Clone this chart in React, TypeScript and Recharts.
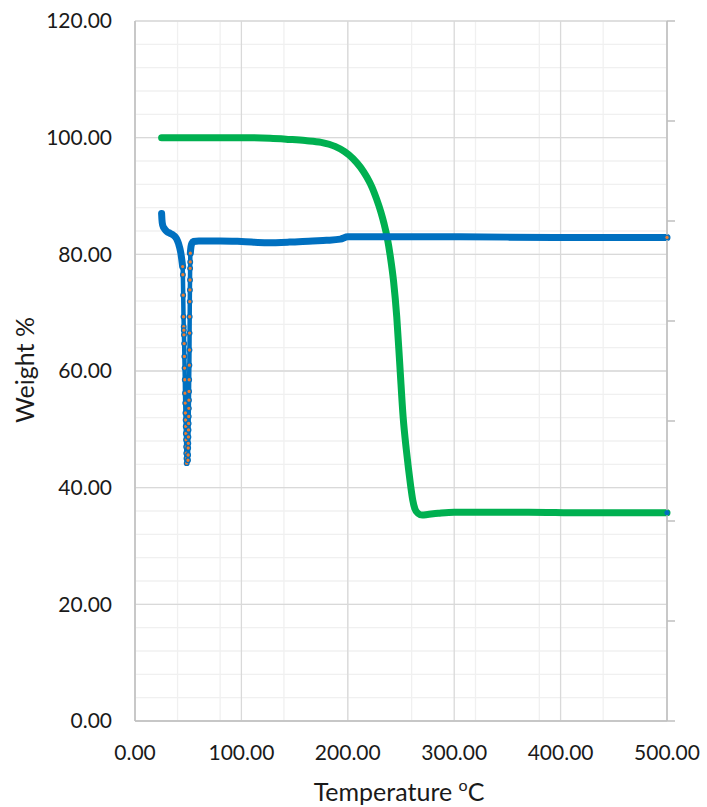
import React from 'react';
import {
  LineChart,
  Line,
  XAxis,
  YAxis,
  CartesianGrid,
  Label,
} from 'recharts';

// TGA curve (green): temperature / weight %
const greenTemp = [
  25, 60, 100, 127, 145, 160, 175, 188, 197, 205, 212, 218, 223, 227, 231, 234,
  237, 240, 243, 246, 249, 252, 255, 257, 259, 261, 263, 266, 270, 275, 285, 300,
  330, 370, 420, 500,
];
const greenWeight = [
  100.0, 100.0, 100.0, 99.9, 99.7, 99.5, 99.2, 98.5, 97.6, 96.4, 94.9, 93.2, 91.4,
  89.5, 87.3, 85.3, 82.9, 79.6, 75.4, 69.3, 60.7, 52.1, 46.5, 43.3, 40.4, 37.9,
  36.4, 35.6, 35.3, 35.4, 35.6, 35.8, 35.8, 35.8, 35.7, 35.7,
];

// blue curve, split in three parts: start, the dip near 45-52 °C, the long tail
const blueLeadTemp = [25, 25.3, 26, 28, 30, 33, 36, 39, 41, 43, 44.8];
const blueLeadWeight = [87.0, 86.0, 85.0, 84.3, 83.9, 83.6, 83.3, 82.7, 81.8, 80.3, 77.9];

const blueDipTemp = [
  44.8, 45.0, 45.3, 45.6, 45.8, 45.9, 46.0, 46.2, 46.4, 46.6, 46.8, 47.0, 47.2, 47.4,
  47.6, 47.7, 47.8, 48.0, 48.1, 48.2, 48.4, 48.6,
  49.8, 49.9, 50.0, 50.1, 50.2, 50.3, 50.4, 50.5, 50.6, 50.7, 50.8, 50.9, 51.1,
  51.2, 51.3, 51.4, 51.5, 51.6, 51.7, 51.8, 51.9, 52.0,
];
const blueDipWeight = [
  77.9, 76.5, 73.0, 69.3, 67.6, 67.0, 66.2, 64.7, 62.5, 60.5, 58.5, 56.2, 54.5,
  52.8, 51.6, 50.5, 49.3, 48.2, 47.0, 45.9, 45.0, 44.2,
  44.7, 45.6, 46.8, 47.6, 48.7, 49.9, 51.0, 52.2, 53.6, 55.0, 56.5, 58.5, 61.0,
  63.6, 66.5, 69.3, 71.9, 73.9, 75.6, 77.6, 78.7, 80.2,
];

const blueTailTemp = [52.0, 52.6, 53.5, 55, 60, 80, 100, 124, 145, 167, 180, 193, 200, 215, 250, 300, 400, 500];
const blueTailWeight = [80.2, 81.3, 81.9, 82.2, 82.3, 82.3, 82.2, 82.0, 82.1, 82.3, 82.4, 82.6, 83.0, 83.0, 83.0, 83.0, 82.9, 82.9];

// axes
const xTicks = [0, 100, 200, 300, 400, 500];
const yTicks = [0, 20, 40, 60, 80, 100, 120];
const xMinor = [0, 20, 40, 60, 80, 100, 120, 140, 160, 180, 200, 220, 240, 260, 280, 300, 320, 340, 360, 380, 400, 420, 440, 460, 480, 500];
const yMinor = [0, 4, 8, 12, 16, 20, 24, 28, 32, 36, 40, 44, 48, 52, 56, 60, 64, 68, 72, 76, 80, 84, 88, 92, 96, 100, 104, 108, 112, 116, 120];
// secondary (right) axis: unlabelled, 7 divisions
const rightTicks = [0, 1, 2, 3, 4, 5, 6, 7];

const toPoints = (t: number[], w: number[]) => t.map((x, i) => ({ t: x, w: w[i] }));

const greenData = toPoints(greenTemp, greenWeight);
const blueLead = toPoints(blueLeadTemp, blueLeadWeight);
const blueDip = toPoints(blueDipTemp, blueDipWeight);
const blueTail = toPoints(blueTailTemp, blueTailWeight);
const rightData = rightTicks.map((v) => ({ t: 0, r: v }));

const BLUE = '#0070c0';
const GREEN = '#00b050';
const ORANGE = '#ed7d31';
const FONT = 'Lato, "Noto Sans", sans-serif';
const TEXT = '#1a1a1a';
const AXIS = '#bfbfbf';

const dipDot = (p: any) => (
  <circle key={p.key ?? `d${p.index}`} cx={p.cx} cy={p.cy} r={2.3} fill={ORANGE} stroke={BLUE} strokeWidth={1.3} />
);

const endDot = (len: number, fill: string, stroke: string) => (p: any) =>
  p.index === len - 1 ? (
    <circle key={p.key ?? `e${p.index}`} cx={p.cx} cy={p.cy} r={2.2} fill={fill} stroke={stroke} strokeWidth={1} />
  ) : (
    <g key={p.key ?? `e${p.index}`} />
  );

// right axis: outward tick marks only, no labels
const RightTick = (p: any) => (
  <line x1={p.x - 8} x2={p.x} y1={p.y} y2={p.y} stroke={AXIS} strokeWidth={1.5} />
);

export default function App() {
  const tick = { fill: TEXT, fontSize: 21, fontFamily: FONT };
  return (
    <div style={{ position: 'absolute', left: 0, top: 0, width: 707, height: 807, background: '#fff' }}>
      <LineChart width={707} height={807} margin={{ top: 21, right: 0, left: 0, bottom: 0 }}>
        <CartesianGrid
          horizontalValues={yMinor}
          verticalValues={xMinor}
          stroke="#f0f0f0"
          strokeWidth={1.3}
        />
        <CartesianGrid
          horizontalValues={yTicks}
          verticalValues={xTicks}
          stroke="#d9d9d9"
          strokeWidth={1.3}
        />
        <XAxis
          type="number"
          dataKey="t"
          domain={[0, 500]}
          ticks={xTicks}
          height={86}
          tickLine={false}
          tickSize={0}
          tickMargin={24}
          axisLine={{ stroke: AXIS, strokeWidth: 1.5 }}
          tick={tick}
          tickFormatter={(v: number) => v.toFixed(2)}
        >
          <Label
            content={() => (
              <text x={399} y={801} textAnchor="middle" fill={TEXT} fontSize={25} fontFamily={FONT}>
                Temperature <tspan fontSize={16} dy={-10}>o</tspan>
                <tspan dy={10}>C</tspan>
              </text>
            )}
          />
        </XAxis>
        <YAxis
          type="number"
          dataKey="w"
          domain={[0, 120]}
          ticks={yTicks}
          width={135}
          tickLine={false}
          tickSize={0}
          tickMargin={23}
          axisLine={{ stroke: AXIS, strokeWidth: 1.5 }}
          tick={tick}
          tickFormatter={(v: number) => v.toFixed(2)}
        >
          <Label
            content={() => (
              <text
                x={24}
                y={370}
                transform="rotate(-90 24 370)"
                textAnchor="middle"
                dominantBaseline="central"
                fill={TEXT}
                fontSize={25}
                fontFamily={FONT}
              >
                Weight %
              </text>
            )}
          />
        </YAxis>
        <YAxis
          yAxisId="r"
          orientation="right"
          type="number"
          dataKey="r"
          domain={[0, 7]}
          ticks={rightTicks}
          width={40}
          tickSize={0}
          tickMargin={8}
          tickLine={false}
          tick={RightTick}
          axisLine={{ stroke: AXIS, strokeWidth: 1.5 }}
        />
        <Line
          yAxisId="r"
          data={rightData}
          dataKey="r"
          stroke="none"
          dot={false}
          activeDot={false}
          isAnimationActive={false}
        />
        <Line
          data={greenData}
          dataKey="w"
          type="monotone"
          stroke={GREEN}
          strokeWidth={7}
          strokeLinecap="round"
          strokeLinejoin="round"
          dot={endDot(greenData.length, BLUE, BLUE)}
          activeDot={false}
          isAnimationActive={false}
        />
        <Line
          data={blueLead}
          dataKey="w"
          type="monotone"
          stroke={BLUE}
          strokeWidth={7}
          strokeLinecap="round"
          strokeLinejoin="round"
          dot={false}
          activeDot={false}
          isAnimationActive={false}
        />
        <Line
          data={blueTail}
          dataKey="w"
          type="monotone"
          stroke={BLUE}
          strokeWidth={7}
          strokeLinecap="round"
          strokeLinejoin="round"
          dot={endDot(blueTail.length, ORANGE, BLUE)}
          activeDot={false}
          isAnimationActive={false}
        />
        <Line
          data={blueDip}
          dataKey="w"
          type="linear"
          stroke={BLUE}
          strokeWidth={4.5}
          strokeLinecap="round"
          strokeLinejoin="round"
          dot={dipDot}
          activeDot={false}
          isAnimationActive={false}
        />
      </LineChart>
    </div>
  );
}
